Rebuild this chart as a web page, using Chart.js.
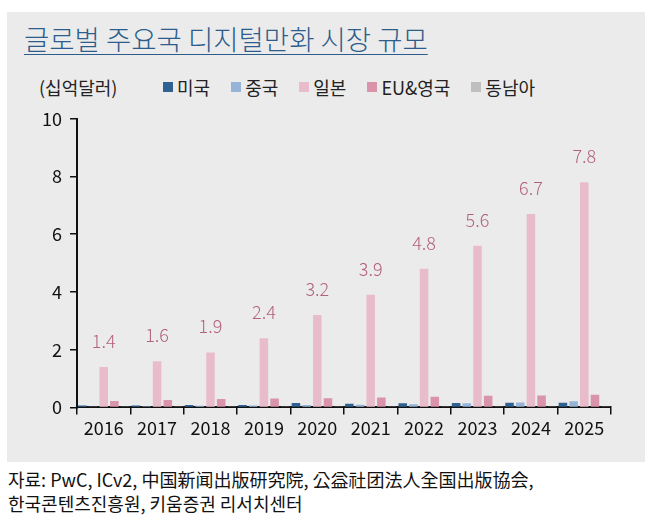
<!DOCTYPE html>
<html>
<head>
<meta charset="utf-8">
<script src="https://cdn.jsdelivr.net/npm/chart.js@4"></script>
<style>
  body { margin: 0; background: #fff; font-family: "Noto Sans CJK KR", sans-serif; }
  #wrap { position: relative; width: 658px; height: 525px; }
  #panel { position: absolute; left: 7px; top: 12px; width: 638px; height: 450px; background: #ebebeb; }
  #title { position: absolute; left: 17px; top: 6px; font-size: 27.5px; font-weight: 300; color: #2c5d8c; text-decoration: underline; text-underline-offset: 4px; text-decoration-thickness: 1px; white-space: nowrap; }
  #unit { position: absolute; left: 32px; top: 62px; font-size: 18px; color: #222; }
  #legend { position: absolute; left: 156px; top: 62px; font-size: 18px; color: #222; display: flex; }
  #legend span.item { margin-right: 21px; display: flex; align-items: center; }
  #legend span.box { width: 10px; height: 10px; display: inline-block; margin-right: 4px; }
  #chartBox { position: absolute; left: 0; top: 100px; width: 645px; height: 342px; }
  #source { position: absolute; left: 8px; top: 467px; font-size: 18px; line-height: 24px; color: #111; }
</style>
</head>
<body>
<div id="wrap">
  <div id="panel">
    <div id="title">글로벌 주요국 디지털만화 시장 규모</div>
    <div id="unit">(십억달러)</div>
    <div id="legend"></div>
  </div>
  <div id="chartBox"><canvas id="chart"></canvas></div>
  <div id="source">자료: PwC, ICv2, 中国新闻出版研究院, 公益社团法人全国出版協会,<br>한국콘텐츠진흥원, 키움증권 리서치센터</div>
</div>
<script>
const years = ['2016', '2017', '2018', '2019', '2020', '2021', '2022', '2023', '2024', '2025'];
const usa = [0.07, 0.07, 0.08, 0.08, 0.15, 0.13, 0.14, 0.15, 0.16, 0.16];
const china = [0.03, 0.04, 0.06, 0.07, 0.08, 0.09, 0.11, 0.14, 0.17, 0.21];
const japan = [1.4, 1.6, 1.9, 2.4, 3.2, 3.9, 4.8, 5.6, 6.7, 7.8];
const euUk = [0.22, 0.26, 0.29, 0.31, 0.32, 0.34, 0.37, 0.40, 0.41, 0.44];
const seAsia = [0.01, 0.01, 0.01, 0.01, 0.01, 0.01, 0.01, 0.01, 0.01, 0.01];
const yTicks = [0, 2, 4, 6, 8, 10];

const font = '"Noto Sans CJK KR", sans-serif';

const series = [
  { label: '미국', data: usa, color: '#2f6193' },
  { label: '중국', data: china, color: '#95b4d8' },
  { label: '일본', data: japan, color: '#e9bccb' },
  { label: 'EU&영국', data: euUk, color: '#d993aa' },
  { label: '동남아', data: seAsia, color: '#bfbfbf' }
];

// html legend
const legend = document.getElementById('legend');
series.forEach(s => {
  const item = document.createElement('span');
  item.className = 'item';
  item.innerHTML = '<span class="box" style="background:' + s.color + '"></span>' + s.label;
  legend.appendChild(item);
});

// value labels above the japan bars
const japanLabels = {
  id: 'japanLabels',
  afterDatasetsDraw(chart) {
    const meta = chart.getDatasetMeta(2);
    const c = chart.ctx;
    c.save();
    c.font = '300 18px ' + font;
    c.fillStyle = '#b2607f';
    c.textAlign = 'center';
    c.textBaseline = 'middle';
    meta.data.forEach((bar, i) => {
      c.fillText(japan[i].toFixed(1), bar.x, bar.y - 26);
    });
    c.restore();
  }
};

const ctx = document.getElementById('chart').getContext('2d');
new Chart(ctx, {
  type: 'bar',
  data: {
    labels: years,
    datasets: series.map(s => ({
      label: s.label,
      data: s.data,
      backgroundColor: s.color,
      barPercentage: 0.8,
      categoryPercentage: 1.0
    }))
  },
  options: {
    responsive: true,
    maintainAspectRatio: false,
    animation: false,
    layout: { padding: { top: 12, right: 34, left: 0, bottom: 0 } },
    plugins: { legend: { display: false }, tooltip: { enabled: false } },
    scales: {
      x: {
        grid: { display: true, drawOnChartArea: false, offset: true, color: '#111', tickLength: 7, lineWidth: 1.5 },
        border: { color: '#111', width: 2 },
        ticks: { color: '#111', font: { family: font, size: 18 }, padding: 3 }
      },
      y: {
        min: 0,
        max: 10,
        afterBuildTicks: axis => { axis.ticks = yTicks.map(v => ({ value: v })); },
        afterFit: axis => { axis.width = 77; },
        grid: { display: true, drawOnChartArea: false, color: '#111', tickLength: 7, lineWidth: 1.5 },
        border: { color: '#111', width: 2 },
        ticks: { color: '#111', font: { family: font, size: 18 }, padding: 8 }
      }
    }
  },
  plugins: [japanLabels]
});
</script>
</body>
</html>
